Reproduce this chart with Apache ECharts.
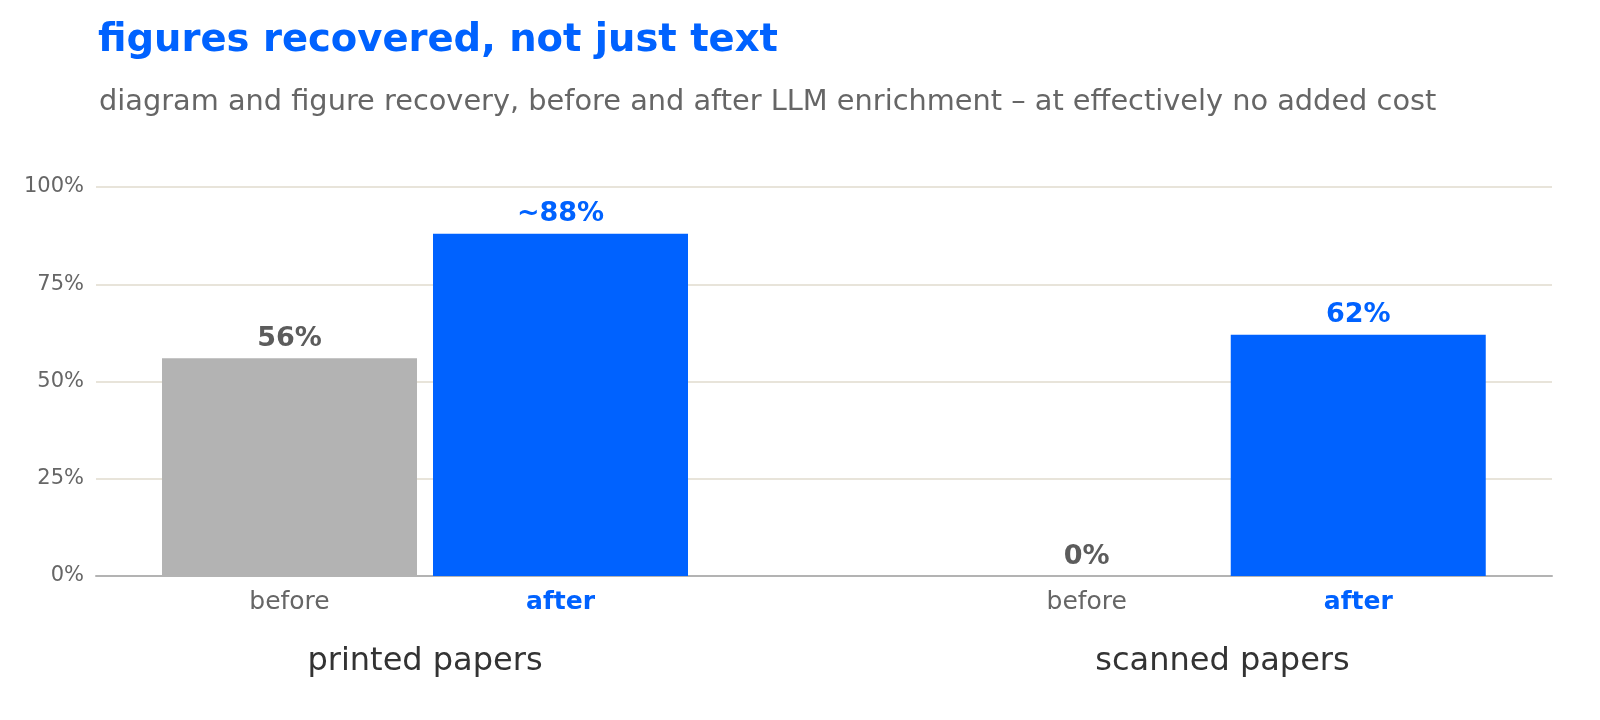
<!DOCTYPE html>
<html>
<head>
<meta charset="utf-8">
<script src="https://cdn.jsdelivr.net/npm/echarts@6/dist/echarts.min.js"></script>
<style>
  html, body { margin: 0; padding: 0; background: #fff; }
  #chart { width: 1600px; height: 720px; }
</style>
</head>
<body>
<div id="chart"></div>
<script>
// data
const stages = ['before', 'after']
const groups = ['printed papers', 'scanned papers']
const printedValues = [56, 88]
const scannedValues = [0, 62]
const printedApprox = [false, true]
const scannedApprox = [false, false]
const yTicks = [0, 25, 50, 75, 100]

const BLUE = '#0062ff'
const GREY_BAR = '#b3b3b3'
const GREY_TEXT = '#5c5c5c'
const FONT = 'DejaVu Sans'

const chart = echarts.init(document.getElementById('chart'))

// one bar series per group, colour by stage
function groupSeries(values, approx, idx) {
  return {
    type: 'bar',
    xAxisIndex: idx,
    yAxisIndex: idx,
    barWidth: 255,
    data: values.map((v, i) => ({
      value: v,
      itemStyle: {color: i === 0 ? GREY_BAR : BLUE},
      label: {color: i === 0 ? GREY_TEXT : BLUE}
    })),
    label: {
      show: true,
      position: 'top',
      distance: 6,
      fontFamily: FONT,
      fontSize: 27,
      fontWeight: 'bold',
      formatter: p => (approx[p.dataIndex] ? '~' : '') + p.value + '%'
    },
    silent: true
  }
}

function groupAxis(name, idx) {
  return {
    type: 'category',
    gridIndex: idx,
    data: stages,
    name: name,
    nameLocation: 'middle',
    nameGap: 70,
    nameTextStyle: {fontFamily: FONT, fontSize: 32, color: '#333'},
    axisLine: {show: false},
    axisTick: {show: false},
    axisLabel: {
      margin: 14,
      formatter: (v, i) => i === 0 ? '{b|' + v + '}' : '{a|' + v + '}',
      rich: {
        b: {fontFamily: FONT, fontSize: 25, color: '#666'},
        a: {fontFamily: FONT, fontSize: 25, color: BLUE, fontWeight: 'bold'}
      }
    }
  }
}

function hiddenY(idx) {
  return {type: 'value', gridIndex: idx, min: 0, max: 100, show: false, splitLine: {show: false}}
}

const option = {
  animation: false,
  backgroundColor: '#fff',
  title: [
    {
      text: 'figures recovered, not just text',
      left: 93, top: 16,
      textStyle: {fontFamily: FONT, fontSize: 38.5, fontWeight: 'bold', color: BLUE}
    },
    {
      text: 'diagram and figure recovery, before and after LLM enrichment – at effectively no added cost',
      left: 94, top: 83,
      textStyle: {fontFamily: FONT, fontSize: 28.8, fontWeight: 'normal', color: '#666'}
    }
  ],
  grid: [
    {left: 96, right: 48, top: 187, bottom: 144},
    {left: 154, right: 1600 - 696, top: 187, bottom: 144},
    {left: 951, right: 1600 - 1494, top: 187, bottom: 144}
  ],
  xAxis: [
    {
      type: 'category', gridIndex: 0, data: [''],
      axisLine: {show: true, lineStyle: {color: '#b3b3b3', width: 2}},
      axisTick: {show: false}, axisLabel: {show: false}
    },
    groupAxis(groups[0], 1),
    groupAxis(groups[1], 2)
  ],
  yAxis: [
    {
      type: 'value', gridIndex: 0, min: 0, max: 100, interval: 25,
      axisLine: {show: false}, axisTick: {show: false},
      axisLabel: {
        margin: 12, fontFamily: FONT, fontSize: 21, color: '#666',
        formatter: v => yTicks.includes(v) ? v + '%' : ''
      },
      splitLine: {lineStyle: {color: '#e8e4da', width: 2}}
    },
    hiddenY(1),
    hiddenY(2)
  ],
  series: [
    groupSeries(printedValues, printedApprox, 1),
    groupSeries(scannedValues, scannedApprox, 2)
  ]
}

chart.setOption(option)
</script>
</body>
</html>
